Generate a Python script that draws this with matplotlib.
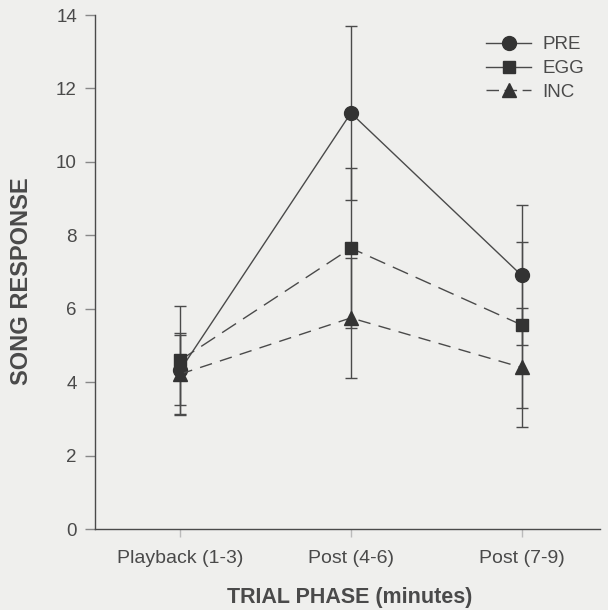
import matplotlib
matplotlib.use("Agg")
import matplotlib.pyplot as plt
from matplotlib.lines import Line2D
import numpy as np

# data
phases = ['Playback (1-3)', 'Post (4-6)', 'Post (7-9)']
pre = [4.33, 11.33, 6.91]
pre_err = [0.95, 2.38, 1.91]
egg = [4.60, 7.65, 5.56]
egg_err = [1.47, 2.18, 2.27]
inc = [4.22, 5.75, 4.40]
inc_err = [1.12, 1.63, 1.62]

plt.rcParams['font.family'] = ['Liberation Sans', 'DejaVu Sans']

bg = '#efefed'
ink = '#4a4a4a'
mark = '#333333'

fig = plt.figure(figsize=(6.08, 6.10), dpi=100, facecolor=bg)
ax = fig.add_axes([95 / 608, 1 - 529 / 610, 505 / 608, 514 / 610], facecolor=bg)

x = np.arange(len(phases))

styles = [
    ('PRE', pre, pre_err, '-', 'o', 10),
    ('EGG', egg, egg_err, (0, (12, 6)), 's', 9),
    ('INC', inc, inc_err, (0, (9, 6)), '^', 10),
]
handles = []
for name, vals, err, ls, m, ms in styles:
    ax.errorbar(x, vals, yerr=err, color=ink, lw=1.0, ls=ls, marker=m, ms=ms,
                mfc=mark, mec=mark, ecolor=ink, elinewidth=1.0, capsize=4,
                capthick=1.0, zorder=3)
    handles.append(Line2D([], [], color=ink, lw=1.0, ls='-' if name != 'INC' else (0, (9, 4)),
                          marker=m, ms=ms, mfc=mark, mec=mark, label=name))

ax.set_xlim(-0.5, 2.46)
ax.set_ylim(0, 14)
ax.set_yticks(range(0, 15, 2))
ax.set_xticks(x)
ax.set_xticklabels(phases)

for s in ['top', 'right']:
    ax.spines[s].set_visible(False)
for s in ['left', 'bottom']:
    ax.spines[s].set_color(ink)
    ax.spines[s].set_linewidth(1.0)

ax.tick_params(axis='y', direction='out', length=7, width=1.0, color='#888888',
               labelcolor=ink, labelsize=13.5, pad=6)
ax.tick_params(axis='x', direction='out', length=6, width=1.0, color='#bbbbbb',
               labelcolor=ink, labelsize=14, pad=9)

ax.set_xlabel('TRIAL PHASE (minutes)', fontsize=15.5, fontweight='bold', color=ink)
ax.set_ylabel('SONG RESPONSE', fontsize=17, fontweight='bold', color=ink)
ax.xaxis.set_label_coords((350 - 95) / 505, (529 - 587) / 514)
ax.yaxis.set_label_coords((33 - 95) / 505, 0.5 - (281 - 272) / 514)

ax.legend(handles=handles, loc='upper left', bbox_to_anchor=(380 / 505, 1 - 10 / 514),
          frameon=False, fontsize=13.5, labelcolor=ink, handlelength=2.4,
          labelspacing=0.35, handletextpad=0.6, borderaxespad=0.2)

fig.savefig('out.png', dpi=100, facecolor=bg)
